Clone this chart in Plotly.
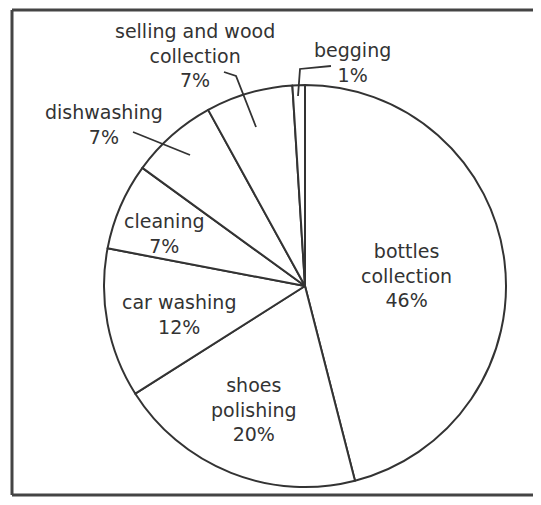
import plotly.graph_objects as go

# ---- data ----
categories = ["bottles collection", "shoes polishing", "car washing", "cleaning",
              "dishwashing", "selling and wood collection", "begging"]
shares = [46, 20, 12, 7, 7, 7, 1]
label_texts = ["bottles<br>collection", "shoes<br>polishing", "car washing", "cleaning",
               "dishwashing", "selling and wood<br>collection", "begging"]

# page has an 8px body margin; work in screenshot pixels and shift
OFF = 8
W, H = 541 - 2 * OFF, 505 - 2 * OFF
# label centre positions in screenshot pixels (layout only)
label_pos = [(406, 275), (254, 409), (179, 314), (164, 233),
             (104, 124), (195, 55), (352, 62)]

def px(x, y):
    return (x - OFF) / W, 1 - (y - OFF) / H

# pie placement (screenshot pixels)
cx, cy, r = 305, 286, 201

fig = go.Figure()
dx0, dy0 = px(cx - r, cy + r)
dx1, dy1 = px(cx + r, cy - r)
fig.add_trace(go.Pie(
    labels=categories,
    values=shares,
    sort=False,
    direction="clockwise",
    rotation=0,
    textinfo="none",
    hoverinfo="label+percent",
    marker=dict(colors=["white"] * len(shares), line=dict(color="#333333", width=2)),
    domain=dict(x=[dx0, dx1], y=[dy0, dy1]),
    showlegend=False,
))

annotations = []
for txt, val, (lx, ly) in zip(label_texts, shares, label_pos):
    x, y = px(lx, ly)
    annotations.append(dict(
        x=x, y=y, xref="paper", yref="paper",
        text=f"{txt}<br>{val}%", showarrow=False,
        xanchor="center", yanchor="middle", align="center",
        font=dict(family="DejaVu Sans", size=19, color="#333333"),
    ))

def path(points):
    s = ""
    for i, (x, y) in enumerate(points):
        X, Y = px(x, y)
        s += ("M" if i == 0 else " L") + f" {X:.4f},{Y:.4f}"
    return s

leaders = [
    [(224, 72), (236, 76), (256, 127)],   # selling and wood collection
    [(133, 132), (190, 155)],             # dishwashing
    [(331, 66), (300, 69), (298, 96)],    # begging
]
shapes = [dict(type="path", path=path(p), xref="paper", yref="paper",
               line=dict(color="#333333", width=1.8)) for p in leaders]

# frame: three separate edges, open on the right
fx0, fy_top = px(12, 10)
_, fy_bot = px(12, 495)
frame_line = dict(color="#444444", width=3)
shapes += [
    dict(type="line", xref="paper", yref="paper", x0=fx0, x1=1.0, y0=fy_top, y1=fy_top, line=frame_line),
    dict(type="line", xref="paper", yref="paper", x0=fx0, x1=1.0, y0=fy_bot, y1=fy_bot, line=frame_line),
    dict(type="line", xref="paper", yref="paper", x0=fx0, x1=fx0, y0=fy_bot, y1=fy_top, line=frame_line),
]

fig.update_layout(
    width=W, height=H,
    margin=dict(l=0, r=0, t=0, b=0),
    paper_bgcolor="white", plot_bgcolor="white",
    annotations=annotations, shapes=shapes,
)
fig.write_html("out.html")
